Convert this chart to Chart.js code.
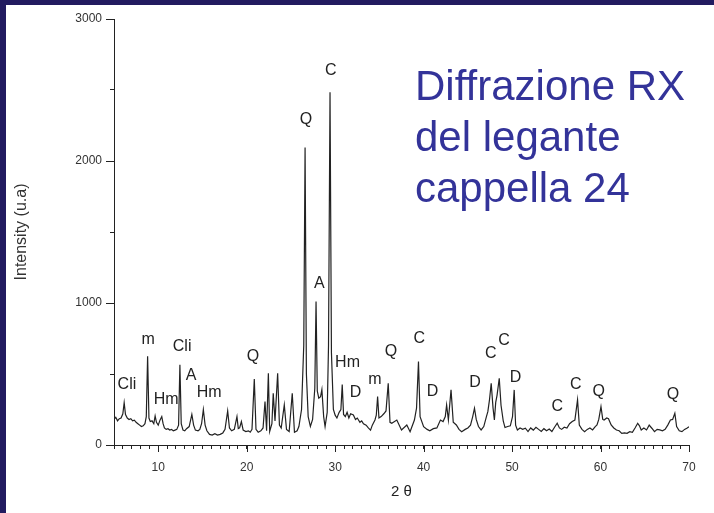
<!DOCTYPE html>
<html>
<head>
<meta charset="utf-8">
<script src="https://cdn.jsdelivr.net/npm/chart.js@4.4.1/dist/chart.umd.min.js"></script>
<style>
  html, body { margin:0; padding:0; background:#fff; }
  #wrap { position:relative; width:714px; height:513px; overflow:hidden; background:#fff; }
  #topbar { position:absolute; left:0; top:0; width:714px; height:5px; background:#221b60; }
  #leftbar { position:absolute; left:0; top:0; width:6px; height:513px; background:#221b60; }
  #title { position:absolute; left:415px; top:60px; font:42px "Liberation Sans", Arial, sans-serif; line-height:51px; color:#333399; white-space:nowrap; }
  canvas { position:absolute; left:0; top:0; }
</style>
</head>
<body>
<div id="wrap">
  <canvas id="xrd" width="714" height="513"></canvas>
  <div id="topbar"></div>
  <div id="leftbar"></div>
  <div id="title">Diffrazione RX<br>del legante<br>cappella 24</div>
</div>
<script>
// diffractogram (2theta in degrees, intensity in a.u.)
const twoTheta = [
  5.0,5.2,5.4,5.6,5.8,6.0,6.15,6.3,6.5,6.7,6.9,7.1,7.3,7.5,7.7,7.9,8.1,8.3,8.5,8.65,8.8,8.95,
  9.1,9.3,9.5,9.65,9.8,10.0,10.2,10.4,10.55,10.7,10.9,11.1,11.3,11.5,11.7,11.9,12.1,12.3,12.45,12.6,
  12.8,13.0,13.2,13.5,13.8,14.0,14.2,14.5,14.7,14.9,15.1,15.3,15.5,15.8,16.1,16.4,16.7,17.0,17.3,
  17.55,17.85,18.05,18.3,18.6,18.9,19.05,19.2,19.4,19.6,19.9,20.2,20.4,20.6,20.86,21.05,21.3,21.6,
  21.85,22.07,22.25,22.45,22.6,22.85,23.0,23.2,23.5,23.7,23.9,24.25,24.5,24.8,25.15,25.4,25.7,25.9,
  26.2,26.45,26.6,26.75,26.95,27.2,27.45,27.7,27.84,27.98,28.15,28.35,28.5,28.7,28.86,29.1,29.25,
  29.42,29.58,29.8,30.0,30.2,30.45,30.65,30.8,30.95,31.15,31.35,31.55,31.75,32.06,32.3,32.5,32.8,
  33.0,33.2,33.5,33.75,34.0,34.2,34.5,34.65,34.8,34.95,35.2,35.5,35.75,36.0,36.2,36.4,36.97,37.5,
  38.1,38.47,38.96,39.2,39.42,39.6,40.0,40.4,40.7,41.1,41.5,41.9,42.2,42.45,42.6,42.8,43.1,43.35,
  43.7,44.0,44.3,44.7,45.0,45.3,45.55,45.75,45.95,46.2,46.5,46.8,47.1,47.26,47.45,47.64,47.85,48.0,
  48.15,48.3,48.55,48.75,49.0,49.2,49.5,49.8,50.05,50.24,50.4,50.6,50.9,51.2,51.5,51.8,52.1,52.4,
  52.7,53.0,53.3,53.6,53.9,54.2,54.5,54.8,55.1,55.35,55.6,55.9,56.2,56.5,56.8,57.1,57.4,57.6,57.9,
  58.2,58.5,58.8,59.1,59.4,59.6,59.8,60.05,60.25,60.4,60.7,60.9,61.2,61.5,61.8,62.1,62.4,62.7,63.0,
  63.3,63.6,63.9,64.2,64.4,64.6,64.9,65.2,65.5,65.8,66.1,66.4,66.7,67.0,67.3,67.6,67.9,68.15,68.4,
  68.6,68.9,69.2,69.5,69.8,70.0
];
const intensity = [
  180,195,170,185,190,220,298,215,190,180,185,170,175,160,150,140,130,135,150,200,625,190,
  165,170,150,205,160,140,175,200,150,120,110,115,105,110,100,105,110,140,565,150,
  105,100,115,130,215,140,105,100,110,150,250,140,100,75,70,80,70,75,85,
  110,240,120,100,110,200,115,120,165,105,95,100,90,110,465,110,90,100,
  120,306,100,505,95,150,364,170,505,140,120,282,110,95,364,90,100,130,
  250,700,2095,500,200,130,180,400,1010,380,330,340,390,200,130,230,700,
  2485,650,250,210,190,230,250,425,215,200,230,190,220,212,180,190,160,
  170,150,140,120,105,140,176,210,341,190,200,220,240,435,160,153,176,106,
  141,94,176,260,588,200,129,110,100,115,120,176,165,200,282,176,388,160,
  141,110,94,110,120,140,200,259,180,130,106,130,200,235,320,435,260,176,
  300,350,470,280,170,123,130,135,200,388,140,106,120,110,118,95,120,105,
  125,110,95,115,100,112,95,125,153,120,110,125,120,150,165,176,318,140,110,
  94,110,120,106,130,141,180,270,180,176,190,185,141,120,106,100,82,85,82,
  94,90,120,153,135,106,120,106,140,118,94,110,106,100,110,140,176,180,224,
  130,100,94,110,120,129
];

// phase labels placed over the peaks
const phaseNames = ['Cli','m','Hm','Cli','A','Hm','Q','Q','A','C','Hm','D','m','Q','C','D','D','C','C','D','C','C','Q','Q'];
const phaseX = [6.46,8.85,10.9,12.7,13.7,15.75,20.7,26.7,28.2,29.5,31.4,32.3,34.5,36.3,39.5,41.0,45.8,47.6,49.1,50.4,55.1,57.2,59.8,68.2];
const phaseY = [423,740,317,691,487,367,621,2292,1135,2637,578,367,458,656,748,374,437,642,733,472,268,423,374,353];

const xMajor = [10,20,30,40,50,60,70];
const yMajor = [0,1000,2000,3000];

const INK = '#222';
const FONT = '"Liberation Sans", Arial, sans-serif';

const phaseLabelPlugin = {
  id: 'phaseLabels',
  afterDatasetsDraw(chart) {
    const { ctx, scales: { x, y } } = chart;
    ctx.save();
    ctx.fillStyle = INK;
    ctx.font = '16px ' + FONT;
    ctx.textAlign = 'center';
    ctx.textBaseline = 'middle';
    phaseNames.forEach((t, i) => ctx.fillText(t, x.getPixelForValue(phaseX[i]), y.getPixelForValue(phaseY[i])));
    ctx.restore();
  }
};

// longer ticks at the labelled values
const majorTickPlugin = {
  id: 'majorTicks',
  afterDraw(chart) {
    const { ctx, chartArea: a, scales: { x, y } } = chart;
    ctx.save();
    ctx.strokeStyle = INK; ctx.lineWidth = 1;
    ctx.beginPath();
    xMajor.forEach(v => { const px = Math.round(x.getPixelForValue(v)) + 0.5; ctx.moveTo(px, a.bottom); ctx.lineTo(px, a.bottom + 7); });
    yMajor.forEach(v => { const py = Math.round(y.getPixelForValue(v)) + 0.5; ctx.moveTo(a.left - 8, py); ctx.lineTo(a.left, py); });
    ctx.stroke();
    ctx.restore();
  }
};

const points = twoTheta.map((t, i) => ({ x: t, y: intensity[i] }));

new Chart(document.getElementById('xrd').getContext('2d'), {
  type: 'line',
  data: { datasets: [{ data: points, borderColor: '#222', borderWidth: 1.2, pointRadius: 0, tension: 0, fill: false }] },
  options: {
    responsive: false, animation: false,
    layout: { padding: { left: 0, top: 19, right: 25, bottom: 0 } },
    plugins: { legend: { display: false }, tooltip: { enabled: false } },
    scales: {
      x: {
        type: 'linear', min: 5, max: 70,
        afterFit: s => { s.height = 68; },
        grid: { drawOnChartArea: false, tickLength: 4, tickColor: INK },
        border: { color: INK, width: 1 },
        ticks: { stepSize: 1, autoSkip: false, maxRotation: 0, padding: 11, color: '#333', font: { family: FONT, size: 12 },
                 callback: v => (v % 10 === 0 ? v : '') },
        title: { display: true, text: '2 θ', color: INK, font: { family: FONT, size: 15 }, padding: { top: 4, bottom: 12 } }
      },
      y: {
        min: 0, max: 3000,
        afterFit: s => { s.width = 114; },
        grid: { drawOnChartArea: false, tickLength: 4, tickColor: INK },
        border: { color: INK, width: 1 },
        ticks: { stepSize: 500, autoSkip: false, padding: 8, color: '#333', font: { family: FONT, size: 12 },
                 callback: v => (v % 1000 === 0 ? v : '') },
        title: { display: true, text: 'Intensity (u.a)', color: '#333', font: { family: FONT, size: 16 }, padding: { top: 12, bottom: 0 } }
      }
    }
  },
  plugins: [phaseLabelPlugin, majorTickPlugin]
});
</script>
</body>
</html>
